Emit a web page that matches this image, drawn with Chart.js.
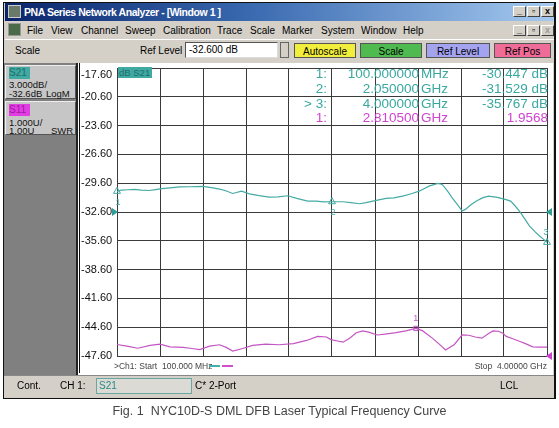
<!DOCTYPE html>
<html>
<head>
<meta charset="utf-8">
<script src="https://cdn.jsdelivr.net/npm/chart.js@4.4.0/dist/chart.umd.min.js"></script>
<style>
body{margin:0;width:559px;height:428px;background:#fff;font-family:"Liberation Sans",Arial,sans-serif;position:relative;overflow:hidden}
.a{position:absolute;white-space:nowrap}
.menu{font-size:10px;color:#000;top:25px}
.btn{position:absolute;top:43px;height:15px;font-size:10px;line-height:15px;text-align:center;border:1px solid #555;box-sizing:border-box}
.wb{position:absolute;width:13px;height:11px;background:#d4d0c8;border:1px solid #fff;border-right-color:#404040;border-bottom-color:#404040;box-sizing:border-box;font-size:9px;font-weight:bold;line-height:9px;text-align:center;color:#000}
.ro{position:absolute;font-size:13.5px;line-height:15px;white-space:nowrap}
.box{position:absolute;left:5px;width:71px;background:#c6c6c6;border:1px solid #eee;border-right-color:#555;border-bottom-color:#555;box-sizing:border-box;font-size:9.5px;color:#111}
</style>
</head>
<body>
<!-- window frame -->
<div class="a" style="left:3px;top:2px;width:553px;height:397px;background:#d4d0c8;border:1px solid #111;border-right-width:2px;box-sizing:border-box"></div>
<!-- title bar -->
<div class="a" style="left:5px;top:3px;width:549px;height:18px;background:linear-gradient(to right,#0a246a,#3a6ab0 45%,#a6caf0)"></div>
<div class="a" style="left:8px;top:5px;width:13px;height:13px;background:#6a7a6a;border:1px solid #ccc;box-sizing:border-box"></div>
<div class="a" style="left:24px;top:5px;font-size:10.5px;letter-spacing:-0.45px;font-weight:bold;color:#fff;line-height:15px">PNA Series Network Analyzer - [Window 1 ]</div>
<div class="wb" style="left:513px;top:6px">_</div>
<div class="wb" style="left:527px;top:6px">&#9643;</div>
<div class="wb" style="left:541px;top:6px">x</div>
<!-- menu bar -->
<div class="a" style="left:8px;top:23px;width:13px;height:13px;background:#4a6a4a;border:1px solid #999;box-sizing:border-box"></div>
<div class="a menu" style="left:27px">File</div>
<div class="a menu" style="left:51px">View</div>
<div class="a menu" style="left:81px">Channel</div>
<div class="a menu" style="left:125px">Sweep</div>
<div class="a menu" style="left:163px">Calibration</div>
<div class="a menu" style="left:217px">Trace</div>
<div class="a menu" style="left:250px">Scale</div>
<div class="a menu" style="left:282px">Marker</div>
<div class="a menu" style="left:321px">System</div>
<div class="a menu" style="left:361px">Window</div>
<div class="a menu" style="left:403px">Help</div>
<div class="wb" style="left:513px;top:25px">_</div>
<div class="wb" style="left:527px;top:25px">&#9643;</div>
<div class="wb" style="left:541px;top:25px;color:#999">x</div>
<!-- toolbar -->
<div class="a" style="left:5px;top:39px;width:549px;height:1px;background:#fff"></div>
<div class="a" style="left:15px;top:45px;font-size:10px">Scale</div>
<div class="a" style="left:140px;top:45px;font-size:10px">Ref Level</div>
<div class="a" style="left:185px;top:42px;width:93px;height:16px;background:#fff;border:1px solid #555;border-right-color:#ddd;border-bottom-color:#ddd;box-sizing:border-box;font-size:10px;line-height:14px;padding-left:3px">-32.600 dB</div>
<div class="a" style="left:280px;top:42px;width:9px;height:16px;background:#d4d0c8;border:1px solid #666;box-sizing:border-box"></div>
<div class="btn" style="left:294px;width:62px;background:#f2ef3c">Autoscale</div>
<div class="btn" style="left:360px;width:62px;background:#4fba4f">Scale</div>
<div class="btn" style="left:426px;width:64px;background:#a3a3f0">Ref Level</div>
<div class="btn" style="left:494px;width:57px;background:#ef6b98">Ref Pos</div>
<!-- left trace panel -->
<div class="a" style="left:4px;top:63px;width:74px;height:312px;background:#808080;border-right:2px solid #222;box-sizing:border-box"></div>
<div class="box" style="top:65px;height:34px">
  <div class="a" style="left:3px;top:1px;width:21px;height:12px;background:#3fa9a2;color:#1d6f6a;font-size:10px;line-height:12px">S21</div>
  <div class="a" style="left:3px;top:14px;line-height:10px">3.000dB/</div>
  <div class="a" style="left:3px;top:23px;line-height:10px">-32.6dB</div>
  <div class="a" style="left:40px;top:23px;line-height:10px">LogM</div>
</div>
<div class="box" style="top:101px;height:34px">
  <div class="a" style="left:3px;top:2px;width:21px;height:12px;background:#e23de2;color:#a01aa0;font-size:10px;line-height:12px">S11</div>
  <div class="a" style="left:3px;top:16px;line-height:10px">1.000U/</div>
  <div class="a" style="left:3px;top:24px;line-height:10px">1.00U</div>
  <div class="a" style="left:45px;top:24px;line-height:10px">SWR</div>
</div>
<!-- plot -->
<div class="a" style="left:78px;top:63px;width:475px;height:312px;background:#fff"></div>
<canvas id="trace" class="a" style="left:78px;top:63px" width="474" height="312"></canvas>
<div class="a" style="left:79px;top:63px;width:1px;height:310px;background:#111"></div>
<div class="a" style="left:118px;top:67px;width:33px;height:11px;background:#3fa9a2;color:#1d6f6a;font-size:9.5px;line-height:11px;padding-left:1px">dB S21</div>
<!-- marker readout -->
<div class="ro" style="left:290px;top:66px;width:37px;text-align:right;color:#3aa8a0">1:</div>
<div class="ro" style="left:330px;top:66px;width:89px;text-align:right;color:#3aa8a0">100.000000</div>
<div class="ro" style="left:421px;top:66px;color:#3aa8a0">MHz</div>
<div class="ro" style="left:460px;top:66px;width:88px;text-align:right;color:#3aa8a0">-30.447 dB</div>
<div class="ro" style="left:290px;top:81px;width:37px;text-align:right;color:#3aa8a0">2:</div>
<div class="ro" style="left:330px;top:81px;width:89px;text-align:right;color:#3aa8a0">2.050000</div>
<div class="ro" style="left:421px;top:81px;color:#3aa8a0">GHz</div>
<div class="ro" style="left:460px;top:81px;width:88px;text-align:right;color:#3aa8a0">-31.529 dB</div>
<div class="ro" style="left:290px;top:96px;width:37px;text-align:right;color:#3aa8a0">&gt; 3:</div>
<div class="ro" style="left:330px;top:96px;width:89px;text-align:right;color:#3aa8a0">4.000000</div>
<div class="ro" style="left:421px;top:96px;color:#3aa8a0">GHz</div>
<div class="ro" style="left:460px;top:96px;width:88px;text-align:right;color:#3aa8a0">-35.767 dB</div>
<div class="ro" style="left:290px;top:110px;width:37px;text-align:right;color:#d044d0">1:</div>
<div class="ro" style="left:330px;top:110px;width:89px;text-align:right;color:#d044d0">2.810500</div>
<div class="ro" style="left:421px;top:110px;color:#d044d0">GHz</div>
<div class="ro" style="left:460px;top:110px;width:88px;text-align:right;color:#d044d0">1.9568</div>
<!-- start / stop -->
<div class="a" style="left:114px;top:361px;font-size:8.5px;color:#444;line-height:10px">&gt;Ch1: Start&nbsp; 100.000 MHz</div>
<div class="a" style="left:209px;top:365px;width:11px;height:2px;background:#40b0a8"></div>
<div class="a" style="left:222px;top:365px;width:11px;height:2px;background:#d050d0"></div>
<div class="a" style="left:470px;top:361px;width:77px;text-align:right;font-size:8.5px;color:#444;line-height:10px">Stop&nbsp; 4.00000 GHz</div>
<!-- status bar -->
<div class="a" style="left:4px;top:375px;width:550px;height:22px;background:#d4d0c8;border-top:1px solid #888;box-sizing:border-box"></div>
<div class="a" style="left:17px;top:380px;font-size:10px;line-height:12px">Cont.</div>
<div class="a" style="left:60px;top:380px;font-size:10px;line-height:12px">CH 1:</div>
<div class="a" style="left:96px;top:378px;width:96px;height:16px;border:1px solid #6aa6a2;background:#dcdad4;box-sizing:border-box;font-size:10px;line-height:14px;padding-left:2px;color:#2a8a86">S21</div>
<div class="a" style="left:195px;top:380px;font-size:10px;line-height:12px">C* 2-Port</div>
<div class="a" style="left:500px;top:380px;font-size:10px;line-height:12px">LCL</div>
<!-- caption -->
<div class="a" style="left:0;top:404px;width:559px;text-align:center;font-size:12.5px;color:#444">Fig. 1&nbsp; NYC10D-S DML DFB Laser Typical Frequency Curve</div>

<script>
// S21 trace (dB) vs frequency (GHz)
const freqS21 = [0.10, 0.14, 0.20, 0.26, 0.32, 0.39, 0.45, 0.49, 0.58, 0.67, 0.76, 0.88, 0.97, 1.03, 1.08, 1.15, 1.23, 1.30, 1.39, 1.48, 1.56, 1.65, 1.73, 1.83, 1.91, 1.97, 2.05, 2.15, 2.22, 2.30, 2.36, 2.42, 2.54, 2.61, 2.69, 2.77, 2.84, 2.93, 3.01, 3.05, 3.10, 3.14, 3.19, 3.23, 3.26, 3.31, 3.36, 3.42, 3.47, 3.55, 3.62, 3.67, 3.71, 3.75, 3.80, 3.84, 3.89, 3.93, 3.97, 4.00];
const dbS21 = [-30.45, -30.32, -30.28, -30.25, -30.33, -30.36, -30.26, -30.19, -30.08, -29.98, -29.97, -29.94, -30.09, -30.22, -30.36, -30.67, -30.43, -30.71, -30.90, -31.05, -31.02, -30.91, -31.18, -31.46, -31.46, -31.55, -31.53, -31.53, -31.62, -31.74, -31.62, -31.46, -31.18, -31.12, -30.94, -30.70, -30.43, -29.91, -29.63, -29.73, -30.45, -31.12, -31.85, -32.50, -32.33, -31.85, -31.46, -31.10, -30.94, -31.08, -31.29, -31.46, -31.95, -32.50, -33.35, -34.05, -34.65, -35.08, -35.45, -35.77];

// S11 trace (SWR) vs frequency (GHz)
const freqS11 = [0.10, 0.19, 0.29, 0.40, 0.49, 0.58, 0.70, 0.78, 0.85, 0.94, 1.03, 1.09, 1.15, 1.24, 1.33, 1.45, 1.57, 1.70, 1.82, 1.92, 2.00, 2.04, 2.10, 2.15, 2.21, 2.27, 2.33, 2.39, 2.46, 2.55, 2.63, 2.72, 2.81, 2.87, 2.96, 3.02, 3.08, 3.16, 3.23, 3.29, 3.35, 3.41, 3.47, 3.51, 3.56, 3.60, 3.63, 3.69, 3.75, 3.81, 3.87, 3.93, 4.00];
const swrS11 = [1.40, 1.34, 1.27, 1.37, 1.41, 1.32, 1.30, 1.26, 1.22, 1.34, 1.39, 1.30, 1.17, 1.26, 1.37, 1.41, 1.39, 1.43, 1.54, 1.68, 1.66, 1.57, 1.52, 1.48, 1.62, 1.81, 1.87, 1.82, 1.73, 1.77, 1.81, 1.87, 1.96, 1.88, 1.62, 1.42, 1.21, 1.40, 1.73, 1.72, 1.66, 1.62, 1.78, 1.87, 1.86, 1.79, 1.68, 1.60, 1.51, 1.42, 1.32, 1.31, 1.31];

// markers
const markerFreqS21 = [0.1, 2.05, 4.0];
const markerDbS21 = [-30.447, -31.529, -35.767];
const markerFreqS11 = [2.8105];
const markerSwrS11 = [1.9568];

// axes
const yTickValues = [-17.6, -20.6, -23.6, -26.6, -29.6, -32.6, -35.6, -38.6, -41.6, -44.6, -47.6];
const xTickValues = [0.1, 0.49, 0.88, 1.27, 1.66, 2.05, 2.44, 2.83, 3.22, 3.61, 4.0];
const refLevelS21 = -32.6;
const refLevelS11 = 1.0;

const colorS21 = '#45aba4';
const colorS11 = '#c455c4';
const colorGrid = '#3a3a3a';

function pairs(xs, ys){
    return xs.map((x, i) => ({x: x, y: ys[i]}));
}

// marker numbers + reference position arrows
const markerPlugin = {
    id: 'markerPlugin',
    afterDraw(chart){
        const ctx = chart.ctx;
        const area = chart.chartArea;
        const y = chart.scales.y, y2 = chart.scales.y2;
        ctx.save();
        ctx.font = '9px "Liberation Sans", Arial';
        ctx.textAlign = 'center';
        ctx.textBaseline = 'middle';

        ctx.fillStyle = colorS21;
        chart.getDatasetMeta(2).data.forEach((pt, i) => {
            const dx = i === 2 ? -1 : 1;
            const dy = i === 2 ? -10 : 11;
            ctx.fillText(String(i + 1), pt.x + dx, pt.y + dy);
        });
        ctx.fillStyle = colorS11;
        chart.getDatasetMeta(3).data.forEach((pt, i) => {
            ctx.fillText(String(i + 1), pt.x, pt.y - 10);
        });

        // reference arrows
        const yr = y.getPixelForValue(refLevelS21);
        ctx.fillStyle = '#2f9e96';
        ctx.beginPath();
        ctx.moveTo(area.left - 5, yr - 4); ctx.lineTo(area.left + 1, yr); ctx.lineTo(area.left - 5, yr + 4);
        ctx.fill();
        ctx.beginPath();
        ctx.moveTo(area.right + 5, yr - 4); ctx.lineTo(area.right - 1, yr); ctx.lineTo(area.right + 5, yr + 4);
        ctx.fill();
        const y11 = y2.getPixelForValue(refLevelS11);
        ctx.fillStyle = '#d040d0';
        ctx.beginPath();
        ctx.moveTo(area.right + 5, y11 - 4); ctx.lineTo(area.right - 1, y11); ctx.lineTo(area.right + 5, y11 + 4);
        ctx.fill();
        ctx.restore();
    }
};

const traceChart = new Chart(document.getElementById('trace'), {
    type: 'line',
    data: {
        datasets: [{
            label: 'S21',
            data: pairs(freqS21, dbS21),
            borderColor: colorS21,
            borderWidth: 1.2,
            pointRadius: 0,
            yAxisID: 'y'
        }, {
            label: 'S11',
            data: pairs(freqS11, swrS11),
            borderColor: colorS11,
            borderWidth: 1.2,
            pointRadius: 0,
            yAxisID: 'y2'
        }, {
            label: 'S21 markers',
            type: 'scatter',
            data: pairs(markerFreqS21, markerDbS21),
            pointStyle: 'triangle',
            pointRadius: 4,
            borderWidth: 1,
            borderColor: colorS21,
            backgroundColor: 'rgba(0,0,0,0)',
            clip: false,
            yAxisID: 'y'
        }, {
            label: 'S11 markers',
            type: 'scatter',
            data: pairs(markerFreqS11, markerSwrS11),
            pointStyle: 'rect',
            pointRadius: 3,
            borderWidth: 1,
            borderColor: colorS11,
            backgroundColor: 'rgba(0,0,0,0)',
            clip: false,
            yAxisID: 'y2'
        }]
    },
    options: {
        responsive: false,
        animation: false,
        layout: {padding: {left: 3, right: 4, top: 3, bottom: 19}},
        plugins: {
            legend: {display: false},
            tooltip: {enabled: false}
        },
        scales: {
            x: {
                type: 'linear',
                min: 0.1,
                max: 4.0,
                afterBuildTicks: (s) => { s.ticks = xTickValues.map(v => ({value: v})); },
                afterFit: (s) => { s.height = 0; s.paddingLeft = 0; s.paddingRight = 0; },
                ticks: {display: false},
                grid: {color: colorGrid, lineWidth: 1, drawTicks: false},
                border: {display: false}
            },
            y: {
                min: -47.6,
                max: -17.6,
                afterBuildTicks: (s) => { s.ticks = yTickValues.map(v => ({value: v})); },
                afterFit: (s) => { s.width = 36; s.paddingTop = 0; s.paddingBottom = 0; },
                ticks: {
                    autoSkip: false,
                    crossAlign: 'far',
                    padding: 0,
                    color: '#111',
                    font: {family: '"Liberation Sans", Arial', size: 11},
                    callback: (v) => v === yTickValues[0] ? ['', v.toFixed(2)] : v.toFixed(2)
                },
                grid: {color: colorGrid, lineWidth: 1, drawTicks: false},
                border: {display: true, color: colorGrid}
            },
            y2: {
                display: false,
                min: 1,
                max: 11
            }
        }
    },
    plugins: [markerPlugin]
});
</script>
</body>
</html>
